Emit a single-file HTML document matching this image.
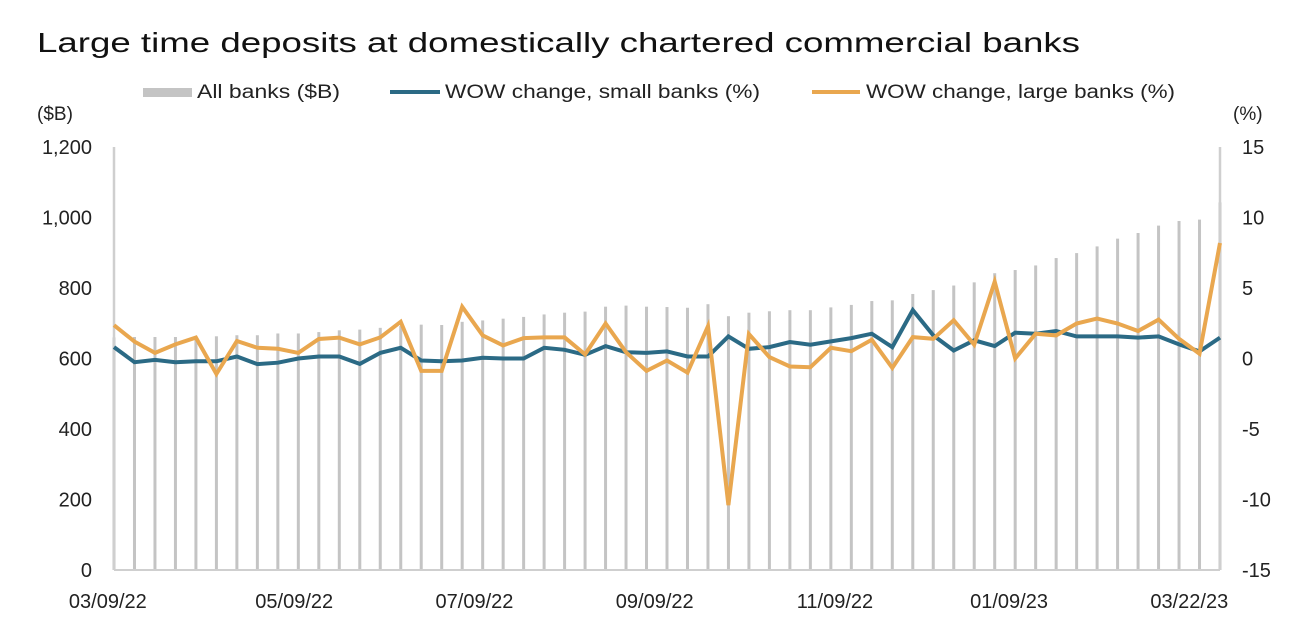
<!DOCTYPE html>
<html><head><meta charset="utf-8"><style>
html,body{margin:0;padding:0;background:#fff;}
svg{display:block;font-family:"Liberation Sans",sans-serif;}
</style></head><body>
<svg id="chart" width="1306" height="640" viewBox="0 0 1306 640" xmlns="http://www.w3.org/2000/svg">
<text x="37" y="52" font-size="28" textLength="1043" lengthAdjust="spacingAndGlyphs" fill="#111">Large time deposits at domestically chartered commercial banks</text>
<g>
<rect x="143" y="88" width="49" height="9" fill="#c4c4c4"/>
<text x="197" y="98" font-size="19" textLength="143" lengthAdjust="spacingAndGlyphs" fill="#222">All banks ($B)</text>
<line x1="390" y1="92" x2="440" y2="92" stroke="#2b6a85" stroke-width="4"/>
<text x="445" y="98" font-size="19" textLength="315" lengthAdjust="spacingAndGlyphs" fill="#222">WOW change, small banks (%)</text>
<line x1="812" y1="92" x2="860" y2="92" stroke="#e9a74f" stroke-width="4"/>
<text x="866" y="98" font-size="19" textLength="309" lengthAdjust="spacingAndGlyphs" fill="#222">WOW change, large banks (%)</text>
</g>
<text x="37" y="120" font-size="19" fill="#222">($B)</text>
<text x="1233" y="120" font-size="19" fill="#222">(%)</text>
<g id="bars"></g>
<g id="axes"></g>
<g id="lines"></g>
<g id="labels"></g>
</svg>
<script>
const categories = ["03/09/22","03/16/22","03/23/22","03/30/22","04/06/22","04/13/22","04/20/22","04/27/22","05/04/22","05/11/22","05/18/22","05/25/22","06/01/22","06/08/22","06/15/22","06/22/22","06/29/22","07/06/22","07/13/22","07/20/22","07/27/22","08/03/22","08/10/22","08/17/22","08/24/22","08/31/22","09/07/22","09/14/22","09/21/22","09/28/22","10/05/22","10/12/22","10/19/22","10/26/22","11/02/22","11/09/22","11/16/22","11/23/22","11/30/22","12/07/22","12/14/22","12/21/22","12/28/22","01/04/23","01/11/23","01/18/23","01/25/23","02/01/23","02/08/23","02/15/23","02/22/23","03/01/23","03/08/23","03/15/23","03/22/23"];
const allBanks = [660,661,661,661,661,663,666,666,671,671,675,680,682,687,692,696,695,704,708,713,718,725,730,733,747,750,747,746,744,754,720,730,734,737,737,745,752,763,765,783,794,807,816,842,851,864,885,899,918,940,956,977,990,994,1043];
const smallBanks = [0.81,-0.26,-0.1,-0.26,-0.2,-0.2,0.14,-0.4,-0.3,0,0.14,0.14,-0.38,0.4,0.76,-0.14,-0.2,-0.14,0.05,0,0,0.76,0.62,0.26,0.88,0.45,0.4,0.5,0.14,0.14,1.57,0.69,0.81,1.17,0.98,1.21,1.45,1.76,0.81,3.43,1.64,0.57,1.29,0.88,1.83,1.76,1.95,1.57,1.57,1.57,1.48,1.57,1.0,0.5,1.48];
const largeBanks = [2.36,1.2,0.4,1.0,1.48,-1.1,1.24,0.76,0.69,0.4,1.38,1.48,1.0,1.5,2.6,-0.88,-0.88,3.67,1.64,0.93,1.45,1.5,1.5,0.29,2.48,0.45,-0.88,-0.14,-1.0,2.29,-10.4,1.74,0.1,-0.57,-0.62,0.76,0.52,1.33,-0.67,1.52,1.4,2.71,0.98,5.45,0,1.76,1.64,2.48,2.83,2.48,1.95,2.76,1.4,0.33,8.19];
const leftTicks = [0,200,400,600,800,1000,1200];
const leftTickLabels = ["0","200","400","600","800","1,000","1,200"];
const rightTicks = [-15,-10,-5,0,5,10,15];
const xLabelIdx = [-0.3,8.8,17.6,26.4,35.2,43.7,52.5];
const xLabelText = ["03/09/22","05/09/22","07/09/22","09/09/22","11/09/22","01/09/23","03/22/23"];

const NS="http://www.w3.org/2000/svg";
const X0=114, X1=1220, YB=570, YT=147;
const n=categories.length;
const step=(X1-X0)/(n-1);
function xs(i){return X0+i*step;}
function yl(v){return YB-(v/1200)*(YB-YT);}
function yr(v){return YB-((v+15)/30)*(YB-YT);}
function mk(tag,attrs,parent){const e=document.createElementNS(NS,tag);for(const k in attrs)e.setAttribute(k,attrs[k]);parent.appendChild(e);return e;}
const gb=document.getElementById('bars'),ga=document.getElementById('axes'),gl=document.getElementById('lines'),gt=document.getElementById('labels');
allBanks.forEach((v,i)=>{
 const r=mk('rect',{x:xs(i)-1.5,y:yl(v),width:3,height:YB-yl(v),fill:'#c4c4c4'},gb);
 
 
});
const la=mk('line',{x1:X0,y1:YT,x2:X0,y2:YB,stroke:'#cfcfcf','stroke-width':2.5},ga);


const ra=mk('line',{x1:X1,y1:YT,x2:X1,y2:YB,stroke:'#cfcfcf','stroke-width':2.5},ga);


const xa=mk('line',{x1:X0,y1:YB,x2:X1,y2:YB,stroke:'#cfcfcf','stroke-width':2},ga);


function path(vals,color,name){
 const d=vals.map((v,i)=>(i?'L':'M')+xs(i).toFixed(1)+' '+yr(v).toFixed(1)).join(' ');
 const p=mk('path',{d:d,fill:'none',stroke:color,'stroke-width':4,'stroke-linejoin':'miter'},gl);
 
 
}
path(smallBanks,'#2b6a85','line-small-banks');
path(largeBanks,'#e9a74f','line-large-banks');
leftTicks.forEach((v,i)=>{
 const t=mk('text',{x:92,y:yl(v)+7,'font-size':20,'text-anchor':'end',fill:'#222'},gt);
 t.textContent=leftTickLabels[i];
 
 
});
rightTicks.forEach(v=>{
 const t=mk('text',{x:1242,y:yr(v)+7,'font-size':20,fill:'#222'},gt);
 t.textContent=String(v);
 
 
});
xLabelIdx.forEach((ix,i)=>{
 const t=mk('text',{x:xs(ix),y:608,'font-size':20,'text-anchor':'middle',fill:'#222'},gt);
 t.textContent=xLabelText[i];
 
 
});
</script>
</body></html>
